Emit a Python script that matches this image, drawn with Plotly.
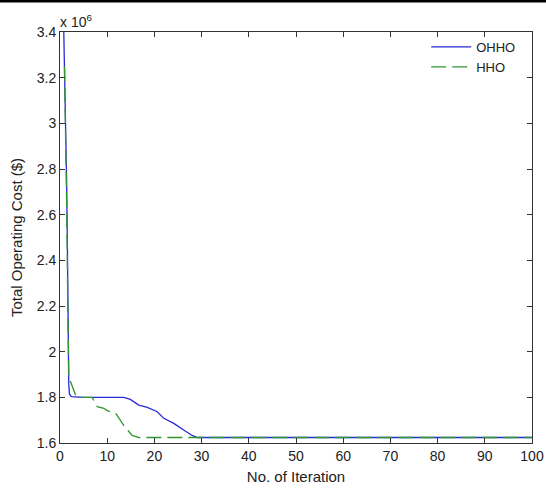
import plotly.graph_objects as go

# Data (cost in units of 1e6 $)
ohho_iter = [0.8, 1.1, 1.4, 1.6, 1.75, 1.85, 2.0, 2.4, 5, 13.5, 14.9, 16.7, 18.5, 20.6, 22.0, 24.1, 26.2, 28.0, 29.1, 100]
ohho_cost = [3.40, 3.10, 2.75, 2.40, 2.00, 1.86, 1.815, 1.803, 1.800, 1.800, 1.791, 1.766, 1.756, 1.737, 1.708, 1.686, 1.657, 1.633, 1.624, 1.624]

hho_iter = [0.95, 1.2, 1.45, 1.6, 1.75, 1.86, 2.2, 2.6, 3.3, 3.8, 6.8, 7.9, 9.3, 10.0, 11.8, 13.5, 15.3, 16.7, 100]
hho_cost = [3.25, 3.00, 2.60, 2.30, 2.00, 1.90, 1.87, 1.845, 1.81, 1.80, 1.80, 1.759, 1.752, 1.742, 1.73, 1.677, 1.633, 1.624, 1.624]

y_ticks = [1.6, 1.8, 2.0, 2.2, 2.4, 2.6, 2.8, 3.0, 3.2, 3.4]
y_tick_labels = ["1.6", "1.8", "2", "2.2", "2.4", "2.6", "2.8", "3", "3.2", "3.4"]
x_ticks = [0, 10, 20, 30, 40, 50, 60, 70, 80, 90, 100]

FONT = "Liberation Sans, Arial, sans-serif"
W, H = 546, 490
L, R, T, B = 60, 14, 32, 47
TXT = "#222222"

fig = go.Figure()
fig.add_trace(go.Scatter(x=ohho_iter, y=ohho_cost, mode="lines", name="OHHO",
                         line=dict(color="#2a2ad8", width=1.3)))
fig.add_trace(go.Scatter(x=hho_iter, y=hho_cost, mode="lines", name="HHO",
                         line=dict(color="#2f962f", width=1.3, dash="15px,6px")))

axis_common = dict(showline=True, linecolor="#333333", linewidth=1, mirror="ticks",
                   ticks="inside", ticklen=5, tickcolor="#333333", showgrid=False,
                   zeroline=False, automargin=False,
                   tickfont=dict(family=FONT, size=14, color=TXT))

fig.update_xaxes(range=[0, 100], tickvals=x_ticks,
                 title=dict(text="No. of Iteration", font=dict(family=FONT, size=15, color=TXT), standoff=8),
                 **axis_common)
fig.update_yaxes(range=[1.6, 3.4], tickvals=y_ticks, ticktext=y_tick_labels,
                 title=dict(text="Total Operating Cost ($)", font=dict(family=FONT, size=15, color=TXT), standoff=10),
                 **axis_common)

pw, ph = W - L - R, H - T - B
fig.add_shape(type="rect", xref="paper", yref="paper",
              x0=-L / pw, x1=(W - L) / pw, y0=1 + (T - 2.5) / ph, y1=1 + (T + 1) / ph,
              fillcolor="black", line=dict(width=0), layer="above")

fig.add_annotation(text="x 10<sup>6</sup>", xref="paper", yref="paper",
                   x=0, y=1, xanchor="left", yanchor="bottom", showarrow=False,
                   font=dict(family=FONT, size=14, color=TXT), xshift=-2, yshift=0)

fig.update_layout(
    width=W, height=H,
    margin=dict(l=L, r=R, t=T, b=B, autoexpand=False),
    paper_bgcolor="white", plot_bgcolor="white",
    font=dict(family=FONT, size=13, color=TXT),
    legend=dict(x=0.975, y=1.0, xanchor="right", yanchor="top",
                bgcolor="rgba(0,0,0,0)", borderwidth=0,
                font=dict(family=FONT, size=13, color=TXT),
                itemwidth=40, tracegroupgap=0),
    showlegend=True,
)

fig.write_html("out.html", config={"displayModeBar": False},
               post_script="document.body.style.margin='0';document.body.style.padding='0';")
